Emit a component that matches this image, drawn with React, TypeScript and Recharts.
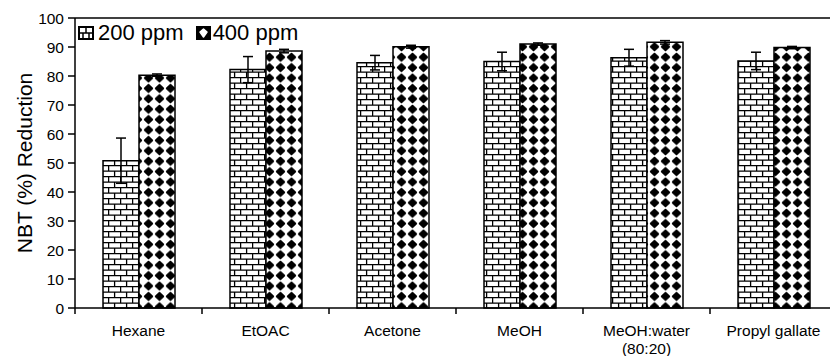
import React from 'react';
import {
  BarChart,
  Bar,
  XAxis,
  YAxis,
  ErrorBar,
  Legend,
  ReferenceLine
} from 'recharts';

// Solvent extracts (and the standard) on the x axis
const categories = ['Hexane', 'EtOAC', 'Acetone', 'MeOH', 'MeOH:water\n(80:20)', 'Propyl gallate'];

// NBT reduction (%) at the two concentrations
const ppm200 = [50.8, 82.2, 84.6, 85.0, 86.3, 85.2];
const ppm200Err = [7.8, 4.5, 2.5, 3.2, 2.9, 3.0];
const ppm400 = [80.3, 88.6, 90.1, 91.0, 91.6, 89.8];
const ppm400Err = [0.4, 0.6, 0.5, 0.4, 0.6, 0.4];

const yTicks = [0, 10, 20, 30, 40, 50, 60, 70, 80, 90, 100];

const seriesNames = ['200 ppm', '400 ppm'];

const data = categories.map((name, i) => ({
  name,
  v200: ppm200[i],
  e200: ppm200Err[i],
  v400: ppm400[i],
  e400: ppm400Err[i]
}));

const FONT = '"Liberation Sans", Arial, Helvetica, sans-serif';
const CHART_W = 840;
const Y_AXIS_W = 75;
const RIGHT = 3;
const BAND = (CHART_W - Y_AXIS_W - RIGHT) / categories.length;

// category labels centred, tick marks on the boundaries between groups
const XTick = (props: any) => {
  const { x, y, payload } = props;
  const lines = String(payload.value).split('\n');
  return (
    <g>
      <line x1={x - BAND / 2} x2={x - BAND / 2} y1={y} y2={y + 6} stroke="#000" strokeWidth={1.5} />
      {lines.map((l: string, i: number) => (
        <text key={i} x={x} y={y + 28 + i * 18} textAnchor="middle" fontSize={15.5} fill="#000" fontFamily={FONT}>
          {l}
        </text>
      ))}
    </g>
  );
};

const BrickIcon = () => (
  <svg width={16} height={14} style={{ display: 'block' }}>
    <rect x={1} y={1} width={14} height={12} fill="#fff" stroke="#000" strokeWidth={2} />
    <path d="M1 7H15 M8 1V7 M5 7V13 M11 7V13" stroke="#000" strokeWidth={1.5} />
  </svg>
);

const DotIcon = () => (
  <svg width={15} height={14} style={{ display: 'block' }}>
    <rect x={1} y={1} width={13} height={12} fill="#000" stroke="#000" strokeWidth={2} />
    <path d="M7.5 3 L11 6 L7.5 11 L4 6 Z" fill="#fff" stroke="#fff" strokeWidth={1.5} strokeLinejoin="round" />
  </svg>
);

const renderLegend = () => (
  <div style={{ display: 'flex', alignItems: 'center', fontFamily: FONT, fontSize: 22, color: '#000', lineHeight: '24px', whiteSpace: 'nowrap' }}>
    <BrickIcon />
    <span style={{ marginLeft: 4 }}>{seriesNames[0]}</span>
    <span style={{ marginLeft: 12 }}><DotIcon /></span>
    <span style={{ marginLeft: 2 }}>{seriesNames[1]}</span>
  </div>
);

const YLabel = (props: any) => {
  const { viewBox } = props;
  const cy = viewBox.y + viewBox.height / 2;
  return (
    <text
      x={24}
      y={cy}
      transform={`rotate(-90, 24, ${cy})`}
      textAnchor="middle"
      dominantBaseline="central"
      fontSize={21}
      fill="#000"
      fontFamily={FONT}
    >
      NBT (%) Reduction
    </text>
  );
};

export default function App() {
  return (
    <div
      style={{
        position: 'absolute',
        left: 0,
        top: 0,
        width: 830,
        height: 356,
        overflow: 'hidden',
        background: '#fff',
        fontFamily: FONT
      }}
    >
      <BarChart
        width={CHART_W}
        height={356}
        data={data}
        margin={{ top: 18, right: RIGHT, bottom: 0, left: 0 }}
        barGap={0}
      >
        <defs>
          <pattern id="brick" width={12} height={11} patternUnits="userSpaceOnUse">
            <rect width={12} height={11} fill="#fff" />
            <path d="M0 0.6H12 M0 6.1H12 M0.6 0V6.1 M6.6 6.1V11" stroke="#000" strokeWidth={1.3} />
          </pattern>
          <pattern id="dots" width={11} height={10.4} patternUnits="userSpaceOnUse">
            <rect width={11} height={10.4} fill="#fff" />
            <path d="M5.5 1.5 L9.3 5.2 L5.5 8.9 L1.7 5.2 Z" fill="#000" stroke="#000" strokeWidth={1.7} strokeLinejoin="round" />
          </pattern>
        </defs>
        <XAxis
          dataKey="name"
          height={48}
          interval={0}
          tick={<XTick />}
          tickLine={false}
          tickSize={0}
          tickMargin={0}
          axisLine={{ stroke: '#000', strokeWidth: 1.5 }}
        />
        <YAxis
          width={Y_AXIS_W}
          domain={[0, 100]}
          ticks={yTicks}
          interval={0}
          tickSize={7}
          tickMargin={4}
          axisLine={{ stroke: '#000', strokeWidth: 1.5 }}
          tickLine={{ stroke: '#000', strokeWidth: 1.5 }}
          tick={{ fill: '#000', fontSize: 15.5, fontFamily: FONT }}
          label={<YLabel />}
        />
        <ReferenceLine y={100} stroke="#000" strokeWidth={1.5} />
        <Legend
          layout="horizontal"
          verticalAlign="middle"
          align="center"
          wrapperStyle={{ top: 21, left: 78, width: 'auto' }}
          content={renderLegend}
        />
        <Bar dataKey="v200" name={seriesNames[0]} fill="url(#brick)" stroke="#000" strokeWidth={1.5} barSize={36} isAnimationActive={false}>
          <ErrorBar dataKey="e200" width={5} stroke="#000" strokeWidth={1.5} direction="y" />
        </Bar>
        <Bar dataKey="v400" name={seriesNames[1]} fill="url(#dots)" stroke="#000" strokeWidth={1.5} barSize={36} isAnimationActive={false}>
          <ErrorBar dataKey="e400" width={5} stroke="#000" strokeWidth={1.5} direction="y" />
        </Bar>
      </BarChart>
    </div>
  );
}
